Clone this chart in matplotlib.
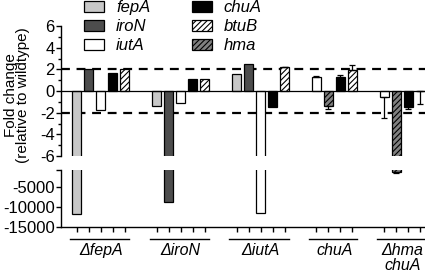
import matplotlib
matplotlib.use("Agg")
import matplotlib.pyplot as plt
import matplotlib.transforms as mtransforms
from matplotlib.patches import Patch
import numpy as np

plt.rcParams['font.family'] = ['Liberation Sans', 'DejaVu Sans']
plt.rcParams['hatch.linewidth'] = 0.8

# ---------------- data ----------------
group_labels = ['ΔfepA', 'ΔiroN', 'ΔiutA', 'chuA', 'Δhma\nchuA']
group_genes = [
    ['fepA', 'iroN', 'iutA', 'chuA', 'btuB'],
    ['fepA', 'iroN', 'iutA', 'chuA', 'btuB'],
    ['fepA', 'iroN', 'iutA', 'chuA', 'btuB'],
    ['iutA', 'hma', 'chuA', 'btuB'],
    ['iutA', 'hma', 'chuA', 'btuB'],
]
group_values = [
    [-11700, 2.0, -1.75, 1.65, 2.05],
    [-1.4, -8800, -1.15, 1.1, 1.15],
    [1.6, 2.45, -11400, -1.5, 2.2],
    [1.25, -1.4, 1.3, 1.95],
    [-0.55, -1200, -1.5, 0.0],
]
group_errors = [
    [0, 0, 0, 0, 0],
    [0, 0, 0, 0, 0],
    [0, 0, 0, 0, 0.05],
    [0.1, 0.25, 0.15, 0.45],
    [1.95, 400, 0.2, 1.2],
]
legend_genes = ['fepA', 'iroN', 'iutA', 'chuA', 'btuB', 'hma']
top_ticks = [6, 4, 2, 0, -2, -4, -6]
bottom_ticks = [-5000, -10000, -15000]

# ---------------- styles ----------------
styles = {
    'fepA': dict(facecolor='#c8c8c8', hatch=None),
    'iroN': dict(facecolor='#4d4d4d', hatch=None),
    'iutA': dict(facecolor='white', hatch=None),
    'chuA': dict(facecolor='black', hatch=None),
    'btuB': dict(facecolor='white', hatch='//////'),
    'hma': dict(facecolor='#808080', hatch='//////'),
}
FS = 12
FS_LAB = 11.5
FS_Y = 11
gap = 1.65
bar_w = 0.75
edge_lw = 0.9

fig = plt.figure(figsize=(4.25, 2.74), dpi=100)
L = 61 / 425
W = 1 - L
ax_top = fig.add_axes([L, 1 - 156 / 274, W, 130 / 274])
ax_bot = fig.add_axes([L, 1 - 227 / 274, W, 57 / 274])

# positions
positions = []
start = 0.0
for genes in group_genes:
    positions.append([start + i for i in range(len(genes))])
    start += len(genes) + gap

for ax in (ax_top, ax_bot):
    for pos, genes, vals, errs in zip(positions, group_genes, group_values, group_errors):
        for x, g, v, e in zip(pos, genes, vals, errs):
            st = styles[g]
            ax.bar(x, v, width=bar_w, color=st['facecolor'], edgecolor='black',
                   hatch=st['hatch'], linewidth=edge_lw, zorder=3)
            if e > 0:
                yerr = [[0], [e]] if v > 0 else [[e], [0]]
                ax.errorbar(x, v, yerr=yerr, fmt='none', ecolor='black',
                            elinewidth=0.9, capsize=2.5, capthick=0.9, zorder=4)

xmin, xmax = -1.33, 29.0
for ax in (ax_top, ax_bot):
    ax.set_xlim(xmin, xmax)
    ax.spines['top'].set_visible(False)
    ax.spines['right'].set_visible(False)
    ax.spines['left'].set_linewidth(1.0)
    ax.spines['bottom'].set_linewidth(1.0)
    ax.tick_params(axis='y', labelsize=FS, width=1.0, length=3.5, pad=1)

# top panel
ax_top.set_ylim(-6, 6)
ax_top.spines['bottom'].set_visible(False)
ax_top.set_xticks([])
ax_top.set_yticks(top_ticks)
ax_top.set_yticklabels([str(t) for t in top_ticks])
ax_top.set_yticks(np.arange(-5, 6, 2), minor=True)
ax_top.tick_params(axis='y', which='minor', length=2.2, width=1.0)
ax_top.axhline(0, color='black', linewidth=0.9, zorder=5)
for yv in (2, -2):
    ax_top.axhline(yv, color='black', linewidth=1.6, linestyle=(0, (4, 3)), zorder=2)
ax_top.set_ylabel('Fold change\n(relative to wildtype)', fontsize=FS_Y, linespacing=0.85)
ax_top.yaxis.set_label_coords((30 - 61) / 364, 0.47)

# bottom panel
ax_bot.set_ylim(-15000, -800)
ax_bot.set_yticks(bottom_ticks)
ax_bot.set_yticklabels([str(t) for t in bottom_ticks])
ax_bot.set_yticks([-800], minor=True)
ax_bot.tick_params(axis='y', which='minor', length=3.5, width=1.0)
all_pos = [p for pos in positions for p in pos]
ax_bot.set_xticks(all_pos)
ax_bot.set_xticklabels([])
ax_bot.tick_params(axis='x', length=3.5, width=1.0, direction='out')

# group underline and labels
trans = mtransforms.blended_transform_factory(ax_bot.transData, ax_bot.transAxes)
for pos, lab in zip(positions, group_labels):
    x0, x1 = pos[0] - 0.6, pos[-1] + 0.35
    ax_bot.plot([x0, x1], [-12 / 57, -12 / 57], transform=trans, color='black',
                linewidth=1.0, clip_on=False)
    ax_bot.text((pos[0] + pos[-1]) / 2, -16 / 57, lab, transform=trans, ha='center',
                va='top', fontsize=FS_LAB, style='italic', linespacing=1.0)

# legend
handles = [Patch(facecolor=styles[g]['facecolor'], edgecolor='black',
                 hatch=styles[g]['hatch'], linewidth=edge_lw) for g in legend_genes]
leg = fig.legend(handles, legend_genes, ncol=2, loc='upper left',
                 bbox_to_anchor=(84 / 425, 1 - 0 / 274), frameon=False,
                 prop=dict(style='italic', size=FS), handlelength=1.2,
                 handleheight=0.66, handletextpad=0.72, columnspacing=2.5,
                 labelspacing=0.24, borderpad=0, borderaxespad=0)

fig.savefig('out.png', dpi=100)
